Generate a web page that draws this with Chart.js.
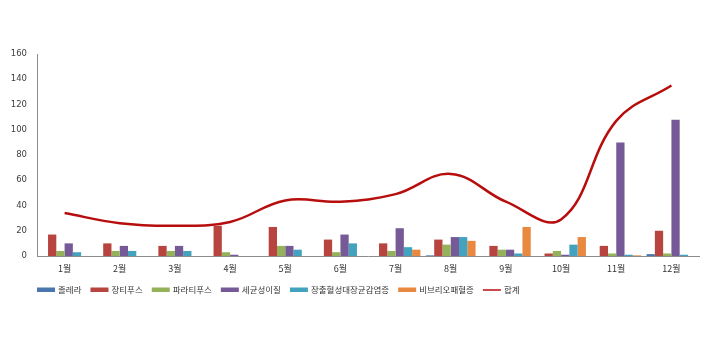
<!DOCTYPE html>
<html lang="ko">
<head>
<meta charset="utf-8">
<title>월별 수인성 감염병</title>
<script src="https://cdn.jsdelivr.net/npm/chart.js@4.4.1/dist/chart.umd.min.js"></script>
<style>
    html, body { margin: 0; padding: 0; background: #fff; }
    #chart { display: block; }
</style>
</head>
<body>
<canvas id="chart" width="702" height="353"></canvas>
<script>
const months = ['1월', '2월', '3월', '4월', '5월', '6월', '7월', '8월', '9월', '10월', '11월', '12월'];

const cholera = [0, 0, 0, 0, 0, 0, 0, 0.5, 0, 0, 0, 1.5];
const typhoid = [17, 10, 8, 24, 23, 13, 10, 13, 8, 2, 8, 20];
const paratyphoid = [4, 4, 4, 3, 8, 3, 4, 9, 5, 4, 2, 2];
const shigellosis = [10, 8, 8, 1, 8, 17, 22, 15, 5, 1, 90, 108];
const ehec = [3, 4, 4, 0, 5, 10, 7, 15, 2, 9, 1, 1];
const vibrio = [0, 0, 0, 0, 0, 0, 5, 12, 23, 15, 0.5, 0];
const total = [34, 26, 24, 27, 44, 43, 49, 65, 43, 29, 107, 135];

const yTicks = [0, 20, 40, 60, 80, 100, 120, 140, 160];

const $chart = document.getElementById('chart');

function barSet(label, data, color) {
    return {
        type: 'bar',
        label: label,
        data: data,
        backgroundColor: color,
        borderWidth: 0,
        categoryPercentage: 0.9,
        barPercentage: 1,
        order: 1
    };
};

// legend drawn by hand so it can start at the axis like the original
const bottomLegend = {
    id: 'bottomLegend',
    afterDraw(chart) {
        const ctx = chart.ctx;
        const y = 290;
        let x = 37;
        ctx.save();
        ctx.font = '8.5px "Noto Sans CJK KR", sans-serif';
        ctx.textBaseline = 'middle';
        for (const ds of chart.data.datasets) {
            if (ds.type === 'line') {
                ctx.strokeStyle = ds.borderColor;
                ctx.lineWidth = 1.5;
                ctx.beginPath();
                ctx.moveTo(x, y);
                ctx.lineTo(x + 18, y);
                ctx.stroke();
            } else {
                ctx.fillStyle = ds.backgroundColor;
                ctx.fillRect(x, y - 2.5, 18, 4.5);
            }
            x += 21;
            ctx.fillStyle = '#333';
            ctx.fillText(ds.label, x, y);
            x += ctx.measureText(ds.label).width + 9;
        }
        ctx.restore();
    }
};

new Chart($chart, {
    data: {
        labels: months,
        datasets: [
            barSet('졸레라', cholera, '#4A76AD'),
            barSet('장티푸스', typhoid, '#B7443F'),
            barSet('파라티푸스', paratyphoid, '#93B25A'),
            barSet('세균성이질', shigellosis, '#765A98'),
            barSet('장출혈성대장균감염증', ehec, '#43A3BE'),
            barSet('비브리오패혈증', vibrio, '#E8893F'),
            {
                type: 'line',
                label: '합계',
                data: total,
                borderColor: '#B80D0D',
                borderWidth: 2.5,
                tension: 0.4,
                pointRadius: 0,
                fill: false,
                order: 0
            }
        ]
    },
    options: {
        responsive: false,
        animation: false,
        layout: {
            padding: { left: 0, right: 3, top: 54, bottom: 77 }
        },
        plugins: {
            legend: { display: false },
            tooltip: { enabled: false }
        },
        scales: {
            x: {
                grid: { display: false, drawTicks: false },
                border: { display: true, color: '#8c8c8c', width: 1 },
                ticks: {
                    padding: 7,
                    color: '#333',
                    font: { family: '"Noto Sans CJK KR", sans-serif', size: 9 }
                },
                afterFit: (scale) => { scale.height = 20; }
            },
            y: {
                min: 0,
                max: 160,
                afterBuildTicks: (scale) => { scale.ticks = yTicks.map(v => ({ value: v })); },
                grid: { display: false, drawTicks: false },
                border: { display: true, color: '#8c8c8c', width: 1 },
                ticks: {
                    padding: 10,
                    color: '#404040',
                    font: { family: '"DejaVu Sans", sans-serif', size: 8.5 }
                },
                afterFit: (scale) => { scale.width = 37; }
            }
        }
    },
    plugins: [bottomLegend]
});
</script>
</body>
</html>
